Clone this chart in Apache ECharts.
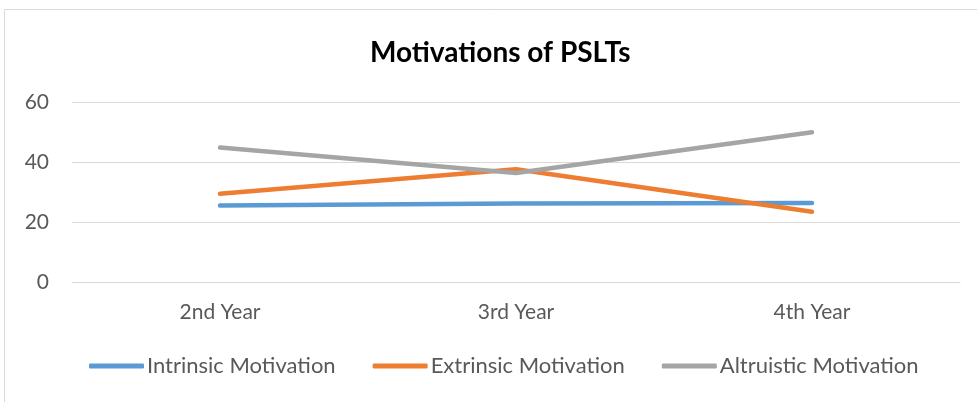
<!DOCTYPE html>
<html>
<head>
<meta charset="utf-8">
<script src="https://cdn.jsdelivr.net/npm/echarts@6/dist/echarts.min.js"></script>
<style>
  html, body { margin: 0; padding: 0; background: #fff; }
  #chart { width: 977px; height: 402px; }
</style>
</head>
<body>
<div id="chart"></div>
<script>
// data
var years = ['2nd Year', '3rd Year', '4th Year'];
var intrinsic = [25.5, 26.2, 26.3];
var extrinsic = [29.4, 37.6, 23.4];
var altruistic = [44.8, 36.3, 49.9];
var yTicks = [0, 20, 40, 60];

var font = 'Lato, "Open Sans", sans-serif';
var txtColor = '#595959';

function lineSeries(name, data, color) {
    return {
        name: name,
        type: 'line',
        data: data,
        symbol: 'none',
        lineStyle: {width: 4.5, color: color, cap: 'round', join: 'round'},
        itemStyle: {color: color}
    };
}

var chart = echarts.init(document.getElementById('chart'));
chart.setOption({
    animation: false,
    backgroundColor: '#fff',
    graphic: [{
        type: 'rect',
        shape: {x: 4.5, y: 9.5, width: 990, height: 420},
        style: {fill: 'none', stroke: '#d9d9d9', lineWidth: 1}
    }],
    title: {
        text: 'Motivations of PSLTs',
        left: 365,
        top: 34,
        textStyle: {fontFamily: font, fontSize: 28, fontWeight: 'bold', color: '#000'}
    },
    legend: {
        bottom: 20,
        left: 84,
        icon: 'roundRect',
        itemWidth: 55,
        itemHeight: 5,
        itemGap: 37,
        textStyle: {fontFamily: font, fontSize: 22, color: txtColor, padding: [0, 0, 0, -2]},
        data: ['Intrinsic Motivation', 'Extrinsic Motivation', 'Altruistic Motivation']
    },
    grid: {left: 72, right: 17, top: 102, bottom: 120, containLabel: false},
    xAxis: {
        type: 'category',
        data: years,
        boundaryGap: true,
        axisLine: {lineStyle: {color: '#d9d9d9', width: 1}},
        axisTick: {show: false},
        axisLabel: {fontFamily: font, fontSize: 21, color: txtColor, margin: 20}
    },
    yAxis: {
        type: 'value',
        min: yTicks[0],
        max: yTicks[yTicks.length - 1],
        interval: 20,
        axisLine: {show: false},
        axisTick: {show: false},
        splitLine: {lineStyle: {color: '#d9d9d9', width: 1}},
        axisLabel: {fontFamily: font, fontSize: 21, color: txtColor, margin: 23}
    },
    series: [
        lineSeries('Intrinsic Motivation', intrinsic, '#5b9bd5'),
        lineSeries('Extrinsic Motivation', extrinsic, '#ed7d31'),
        lineSeries('Altruistic Motivation', altruistic, '#a5a5a5')
    ]
});
</script>
</body>
</html>
